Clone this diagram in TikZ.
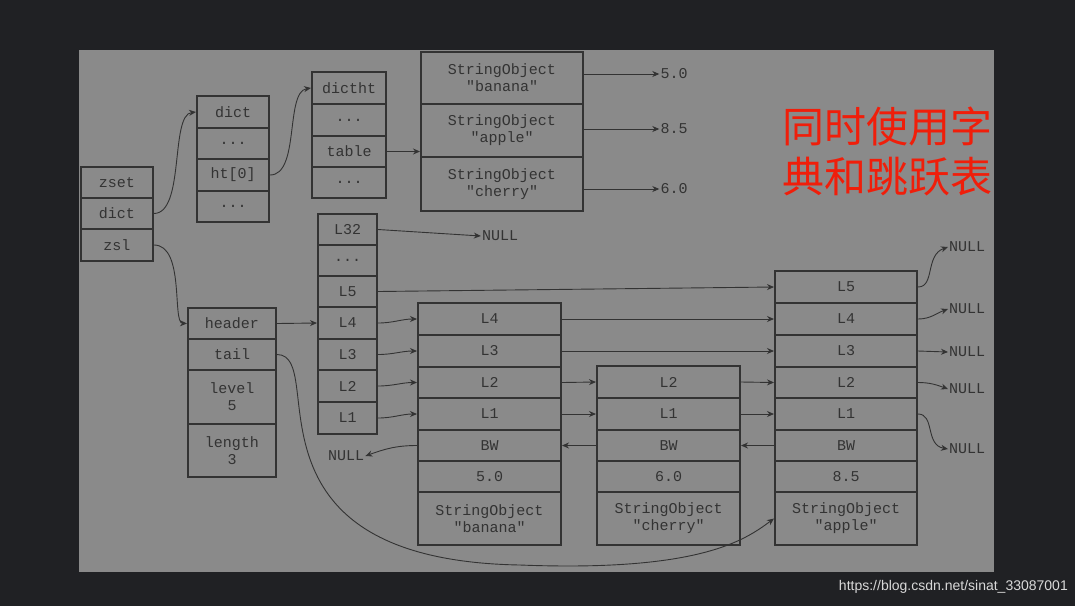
\documentclass[tikz,border=0pt]{standalone}
\usepackage{fontspec}
\setmonofont{Liberation Mono}
\newfontfamily\cjk{Noto Sans CJK SC}
\newfontfamily\wm{Liberation Sans}
\usetikzlibrary{arrows.meta}
\definecolor{bgdark}{HTML}{202124}
\definecolor{panel}{HTML}{8A8A8A}
\definecolor{ink}{HTML}{333333}
\definecolor{redtxt}{HTML}{F01E0A}
\newcommand{\cell}[6]{\node[cell,minimum width={(#4-#2)*1pt},minimum height={(#5-#3)*1pt}] (#1) at ({(#2+#4)/2},{(#3+#5)/2}) {#6};}
\tikzset{
  cell/.style={draw=ink,line width=2pt,inner sep=0pt,align=center,font=\ttfamily\fontsize{15}{17}\selectfont,text=ink},
  lbl/.style={inner sep=1pt,font=\ttfamily\fontsize{15}{17}\selectfont,text=ink},
  con/.style={draw=ink,line width=0.9pt,-{Stealth[length=7pt,width=6pt]}}
}
\begin{document}
\begin{tikzpicture}[x=1pt,y=-1pt]
\fill[bgdark] (0,0) rectangle (1075,606);
\useasboundingbox (0,0) rectangle (1075,606);
\fill[panel] (79,50) rectangle (994,572);
% zset
\cell{zset}{81}{167}{153}{198}{zset}
\cell{zdict}{81}{198}{153}{229}{dict}
\cell{zsl}{81}{229}{153}{261}{zsl}
% dict
\cell{d0}{197}{96}{269}{128}{dict}
\cell{d1}{197}{128}{269}{159}{...}
\cell{d2}{197}{159}{269}{191}{ht[0]}
\cell{d3}{197}{191}{269}{222}{...}
% dictht
\cell{h0}{312}{72}{386}{104}{dictht}
\cell{h1}{312}{104}{386}{136}{...}
\cell{h2}{312}{136}{386}{167}{table}
\cell{h3}{312}{167}{386}{198}{...}
% string objects
\cell{s1}{421}{52}{583}{104}{StringObject\\"banana"}
\cell{s2}{421}{104}{583}{157}{StringObject\\"apple"}
\cell{s3}{421}{157}{583}{211}{StringObject\\"cherry"}
\node[lbl] (v1) at (674,74) {5.0};
\node[lbl] (v2) at (674,129) {8.5};
\node[lbl] (v3) at (674,189) {6.0};
% header levels
\cell{l32}{318}{214}{377}{245}{L32}
\cell{ld}{318}{245}{377}{276}{...}
\cell{l5}{318}{276}{377}{307}{L5}
\cell{l4}{318}{307}{377}{339}{L4}
\cell{l3}{318}{339}{377}{370}{L3}
\cell{l2}{318}{370}{377}{402}{L2}
\cell{l1}{318}{402}{377}{434}{L1}
\node[lbl] (n32) at (500,236) {NULL};
% zskiplist
\cell{hd}{188}{308}{276}{339}{header}
\cell{tl}{188}{339}{276}{370}{tail}
\cell{lv}{188}{370}{276}{424}{level\\5}
\cell{ln}{188}{424}{276}{477}{length\\3}
% node1
\cell{aL4}{418}{303}{561}{335}{L4}
\cell{aL3}{418}{335}{561}{367}{L3}
\cell{aL2}{418}{367}{561}{398}{L2}
\cell{aL1}{418}{398}{561}{430}{L1}
\cell{aBW}{418}{430}{561}{461}{BW}
\cell{aS}{418}{461}{561}{492}{5.0}
\cell{aO}{418}{492}{561}{545}{StringObject\\"banana"}
% node2
\cell{bL2}{597}{366}{740}{398}{L2}
\cell{bL1}{597}{398}{740}{430}{L1}
\cell{bBW}{597}{430}{740}{461}{BW}
\cell{bS}{597}{461}{740}{492}{6.0}
\cell{bO}{597}{492}{740}{545}{StringObject\\"cherry"}
% node3
\cell{cL5}{775}{271}{917}{303}{L5}
\cell{cL4}{775}{303}{917}{335}{L4}
\cell{cL3}{775}{335}{917}{367}{L3}
\cell{cL2}{775}{367}{917}{398}{L2}
\cell{cL1}{775}{398}{917}{430}{L1}
\cell{cBW}{775}{430}{917}{461}{BW}
\cell{cS}{775}{461}{917}{492}{8.5}
\cell{cO}{775}{492}{917}{545}{StringObject\\"apple"}
% NULLs
\node[lbl,anchor=west] (nl) at (327,456) {NULL};
\node[lbl,anchor=west] (r5) at (948,247) {NULL};
\node[lbl,anchor=west] (r4) at (948,309) {NULL};
\node[lbl,anchor=west] (r3) at (948,352) {NULL};
\node[lbl,anchor=west] (r2) at (948,389) {NULL};
\node[lbl,anchor=west] (r1) at (948,449) {NULL};
% text
\node[text=redtxt,font=\cjk\fontsize{42}{50}\selectfont,align=center,inner sep=0] (title) at (887,151) {同时使用字\\典和跳跃表};
\node[text=white!85!black,font=\wm\fontsize{14}{16}\selectfont,anchor=east,inner sep=0] (wmk) at (1068,587) {https://blog.csdn.net/sinat\_33087001};
% connectors
\draw[con] (zdict.east) .. controls (185,213) and (170,115) .. (d0.west);
\draw[con] (d2.east) .. controls (300,175) and (285,92) .. (h0.west);
\draw[con] (h2.east) -- (h2.east -| s2.west);
\draw[con] (s1.east |- v1) -- (v1.west);
\draw[con] (s2.east |- v2) -- (v2.west);
\draw[con] (s3.east |- v3) -- (v3.west);
\draw[con] (zsl.east) .. controls (185,245) and (172,323) .. (hd.west);
\draw[con] (hd.east) -- (l4.west);
\draw[con] (l32.east) -- (n32.west);
\draw[con] (l5.east) -- (cL5.west);
\draw[con] (l4.east) to[out=0,in=180] (aL4.west);
\draw[con] (l3.east) to[out=0,in=180] (aL3.west);
\draw[con] (l2.east) to[out=0,in=180] (aL2.west);
\draw[con] (l1.east) to[out=0,in=180] (aL1.west);
\draw[con] (aL4.east) -- (cL4.west);
\draw[con] (aL3.east) -- (cL3.west);
\draw[con] (aL2.east) -- (bL2.west);
\draw[con] (aL1.east) -- (bL1.west);
\draw[con] (bL2.east) -- (cL2.west);
\draw[con] (bL1.east) -- (cL1.west);
\draw[con] (cBW.west) -- (bBW.east);
\draw[con] (bBW.west) -- (aBW.east);
\draw[con] (aBW.west) to[out=180,in=20] (nl.east);
\draw[con] (cL5.east) .. controls (935,287) and (925,255) .. (r5.west);
\draw[con] (cL4.east) to[out=0,in=200] (r4.west);
\draw[con] (cL3.east) -- (r3.west);
\draw[con] (cL2.east) to[out=0,in=160] (r2.west);
\draw[con] (cL1.east) .. controls (935,414) and (925,445) .. (r1.west);
\draw[con] (tl.east) .. controls (330,355) and (230,560) .. (520,565) .. controls (700,572) and (745,540) .. (cO.west);
\end{tikzpicture}
\end{document}
